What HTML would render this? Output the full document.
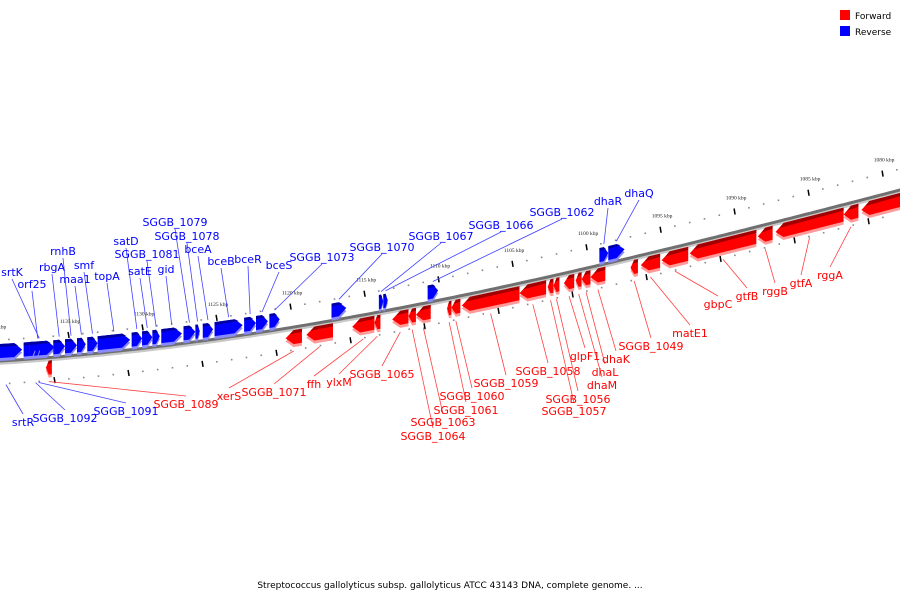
<!DOCTYPE html>
<html><head><meta charset="utf-8"><style>
body{margin:0;background:#fff;}
svg{display:block;font-family:"DejaVu Sans","Liberation Sans",sans-serif;}
</style></head><body>
<svg id="chart" width="900" height="600" viewBox="0 0 900 600" xmlns="http://www.w3.org/2000/svg">
<g>
<rect x="840" y="10" width="10" height="10" fill="#ff0000"/>
<text x="855" y="19" font-size="9" fill="#000">Forward</text>
<rect x="840" y="26" width="10" height="10" fill="#0000ff"/>
<text x="855" y="35" font-size="9" fill="#000">Reverse</text>
</g>
<text x="450" y="588" font-size="9" text-anchor="middle" fill="#000">Streptococcus gallolyticus subsp. gallolyticus ATCC 43143 DNA, complete genome. ...</text>
<g id="ticks"></g><g id="backbone"></g><g id="lines"></g><g id="genes"></g><g id="labels"></g>
</svg>
<script>
// ---- data ----
const geneNames = ["SGGB_1095","srtK","orf25a","orf25","rbgA","rnhB","maa1","smf","topA","satD","satE","SGGB_1081","gid","SGGB_1079","SGGB_1078","bceA","bceB","bceR","bceS","SGGB_1073","SGGB_1070","SGGB_1067","SGGB_1066","SGGB_1062","dhaR","dhaQ",
"SGGB_1089","xerS","SGGB_1071","ffh","ylxM","SGGB_1065","SGGB_1064","SGGB_1063","SGGB_1061","SGGB_1060","SGGB_1059","SGGB_1058","SGGB_1057","SGGB_1056","glpF1","dhaM","dhaL","dhaK","SGGB_1049","matE1","gbpC","gtfB","rggB","gtfA","rggA","SGGB_1046"];
const geneStart = [1139.9,1138.0,1137.6,1137.2,1136.0,1135.2,1134.4,1133.7,1133.0,1130.7,1130.0,1129.3,1128.7,1127.2,1126.4,1125.9,1125.1,1123.1,1122.3,1121.4,1117.2,1114.0,1113.7,1110.7,1099.1,1098.5,
1136.5,1120.3,1118.9,1115.8,1114.3,1113.1,1112.0,1111.5,1109.4,1109.1,1108.4,1104.5,1102.6,1102.2,1101.5,1100.7,1100.3,1099.7,1097.0,1096.3,1094.9,1093.0,1088.4,1087.2,1082.6,1081.4];
const geneEnd = [1138.1,1135.9,1137.2,1136.9,1135.2,1134.4,1133.8,1133.0,1130.8,1130.0,1129.3,1128.8,1127.3,1126.4,1126.1,1125.2,1123.2,1122.3,1121.5,1120.7,1116.2,1113.7,1113.4,1110.0,1098.5,1097.4,
1136.1,1119.2,1117.1,1114.3,1113.9,1112.0,1111.5,1110.5,1109.1,1108.5,1104.5,1102.7,1102.2,1101.8,1100.8,1100.3,1099.7,1098.7,1096.5,1095.0,1093.1,1088.5,1087.4,1082.6,1081.6,1078.0];
const geneStrand = ["-","-","-","-","-","-","-","-","-","-","-","-","-","-","-","-","-","-","-","-","-","-","-","-","-","-",
"+","+","+","+","+","+","+","+","+","+","+","+","+","+","+","+","+","+","+","+","+","+","+","+","+","+"];
// label layout (text anchor positions), null = unlabeled
const labelPos = [null,[12,272],null,[32,284],[52,267],[63,251],[75,279],[84,265],[107,276],[126,241],[140,271],[147,254],[166,269],[175,222],[187,236],[198,249],[221,261],[248,259],[279,265],[322,257],[382,247],[441,236],[501,225],[562,212],[608,201],[639,193],
[186,404],[229,396],[274,392],[314,384],[339,382],[382,374],[433,436],[443,422],[466,410],[472,396],[506,383],[548,371],[574,411],[578,399],[585,356],[602,385],[605,372],[616,359],[651,346],[690,333],[718,304],[747,296],[775,291],[801,283],[830,275],null];
const extraLabels = [["srtR",23,422,"-",1139.2],["SGGB_1092",65,418,"-",1137.2],["SGGB_1091",126,411,"-",1137.0]];
const tickKbp = [1140,1135,1130,1125,1120,1115,1110,1105,1100,1095,1090,1085,1080];

// ---- axis ----
const xOf = k => (1139.6 - k) * 14.8;
const yOf = x => { const t = x / 300; return 361 - 18*t - 19*t*t + 2*t*t*t; };
const NS = "http://www.w3.org/2000/svg";
function mk(tag, attrs, parent){ const e=document.createElementNS(NS,tag); for(const k in attrs) e.setAttribute(k,attrs[k]); parent.appendChild(e); return e; }
const gT=document.getElementById('ticks'), gB=document.getElementById('backbone'), gL=document.getElementById('lines'), gG=document.getElementById('genes'), gX=document.getElementById('labels');

// backbone
let pts=[], pts2=[];
for(let x=-5;x<=905;x+=5){ pts.push(x+","+yOf(x).toFixed(1)); pts2.push(x+","+(yOf(x)+2.5).toFixed(1)); }
const bl = mk('polyline',{points:pts2.join(' '),fill:'none',stroke:'#c8c8c8','stroke-width':2.5},gB);
 
const bb = mk('polyline',{points:pts.join(' '),fill:'none',stroke:'#707070','stroke-width':3},gB);
 

// ticks
for(let k=1141;k>=1077;k--){
  const x=xOf(k); if(x<-2||x>902) continue;
  const major = k%5===0;
  [-21,23].forEach(off=>{
    const xx = off<0 ? x : x-14;
    const y=yOf(xx)+off;
    if(major){ const t=mk('line',{x1:xx,y1:y-3,x2:xx+1,y2:y+3,stroke:'#000','stroke-width':1.5},gT);   }
    else { const t=mk('rect',{x:xx-0.8,y:y-0.8,width:1.6,height:1.6,fill:'#888'},gT);   }
  });
}
tickKbp.forEach(k=>{
  const x=xOf(k); const y=yOf(x)-33;
  const t=mk('text',{x:x+2,y:y,'font-size':5.5,'font-family':'Liberation Serif,serif','text-anchor':'middle',fill:'#222'},gT);
  t.textContent=k+" kbp";
   
});

// genes
function poly(arr){ return arr.map(p=>p[0].toFixed(1)+","+p[1].toFixed(1)).join(' '); }
for(let i=0;i<geneNames.length;i++){
  const a=xOf(geneStart[i]), b=xOf(geneEnd[i]);
  const x1=Math.min(a,b), x2=Math.max(a,b), w=x2-x1;
  const fwd = geneStrand[i]==="+";
  const top = fwd?3:-17, bot = fwd?17:-3, mid=(top+bot)/2;
  const head=Math.min(8,w*0.5);
  const shape = (dy)=> fwd
    ? [[x1,yOf(x1)+mid+dy],[x1+head,yOf(x1+head)+top+dy],[x2,yOf(x2)+top+dy],[x2,yOf(x2)+bot+dy],[x1+head,yOf(x1+head)+bot+dy]]
    : [[x1,yOf(x1)+top+dy],[x2-head,yOf(x2-head)+top+dy],[x2,yOf(x2)+mid+dy],[x2-head,yOf(x2-head)+bot+dy],[x1,yOf(x1)+bot+dy]];
  const g=mk('g',{},gG);
  
  
  mk('polygon',{points:poly(shape(3)),fill:fwd?'#ff9a9a':'#8a8aff'},g);
  mk('polygon',{points:poly(shape(0)),fill:fwd?'#ff0000':'#0000ff'},g);
  const dark = fwd
    ? [[x1+head*0.5,yOf(x1)+top+3],[x1+head,yOf(x1+head)+top],[x2,yOf(x2)+top],[x2,yOf(x2)+top+3]]
    : [[x1,yOf(x1)+top],[x2-head,yOf(x2-head)+top],[x2-head*0.5,yOf(x2)+top+3],[x1,yOf(x1)+top+3]];
  mk('polygon',{points:poly(dark),fill:fwd?'#a00000':'#0000a0'},g);
  const lp=labelPos[i]; if(!lp) continue;
  const gx=(x1+x2)/2, gy = fwd? yOf(gx)+24 : yOf(gx)-20;
  const ly = fwd? lp[1]-8 : lp[1]+7;
  const ln=mk('line',{x1:lp[0],y1:ly,x2:gx,y2:gy,stroke:fwd?'#ff4040':'#4040ff','stroke-width':0.8},gL);
   
  const t=mk('text',{x:lp[0],y:lp[1]+4,'font-size':11,'text-anchor':'middle',fill:fwd?'#ff0000':'#0000ff'},gX);
  t.textContent=geneNames[i];
   
}
extraLabels.forEach(e=>{
  const gx=xOf(e[4]), gy=yOf(gx)+24;
  const ln=mk('line',{x1:e[1],y1:e[2]-8,x2:gx,y2:gy,stroke:'#4040ff','stroke-width':0.8},gL);
   
  const t=mk('text',{x:e[1],y:e[2]+4,'font-size':11,'text-anchor':'middle',fill:'#0000ff'},gX);
  t.textContent=e[0];
   
});
</script>
</body></html>
